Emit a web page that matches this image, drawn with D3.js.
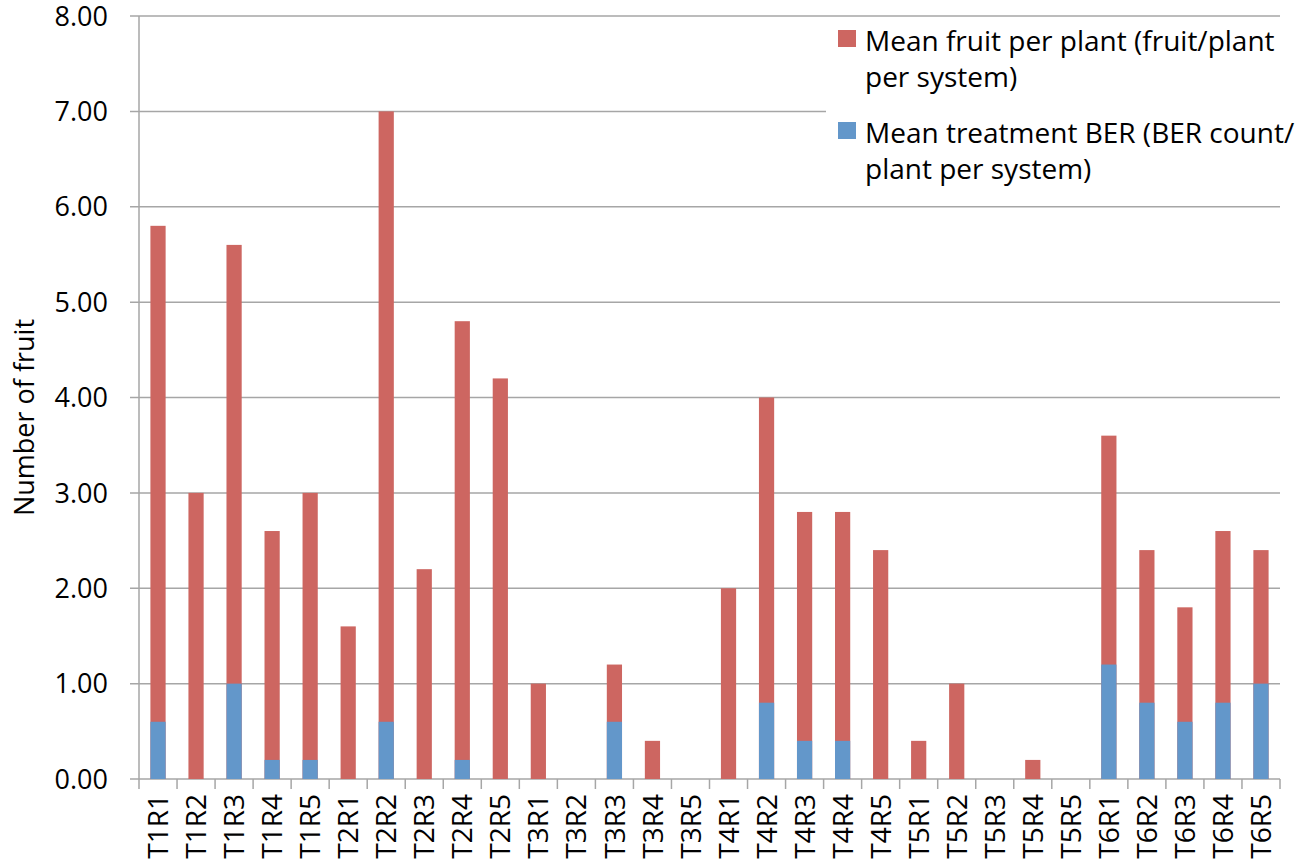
<!DOCTYPE html>
<html>
<head>
<meta charset="utf-8">
<script src="https://cdn.jsdelivr.net/npm/d3@7"></script>
<style>
  html, body { margin: 0; padding: 0; background: #ffffff; }
  svg { display: block; font-family: "Open Sans", sans-serif; }
</style>
</head>
<body>
<svg id="chart" width="1313" height="867"></svg>
<script>
// Category labels along the x axis
const categories = [
    'T1R1', 'T1R2', 'T1R3', 'T1R4', 'T1R5',
    'T2R1', 'T2R2', 'T2R3', 'T2R4', 'T2R5',
    'T3R1', 'T3R2', 'T3R3', 'T3R4', 'T3R5',
    'T4R1', 'T4R2', 'T4R3', 'T4R4', 'T4R5',
    'T5R1', 'T5R2', 'T5R3', 'T5R4', 'T5R5',
    'T6R1', 'T6R2', 'T6R3', 'T6R4', 'T6R5'
];

// Mean fruit per plant (bar top)
const fruitValues = [
    5.8, 3.0, 5.6, 2.6, 3.0,
    1.6, 7.0, 2.2, 4.8, 4.2,
    1.0, 0, 1.2, 0.4, 0,
    2.0, 4.0, 2.8, 2.8, 2.4,
    0.4, 1.0, 0, 0.2, 0,
    3.6, 2.4, 1.8, 2.6, 2.4
];

// Mean treatment BER (drawn over the fruit bar from zero)
const berValues = [
    0.6, 0, 1.0, 0.2, 0.2,
    0, 0.6, 0, 0.2, 0,
    0, 0, 0.6, 0, 0,
    0, 0.8, 0.4, 0.4, 0,
    0, 0, 0, 0, 0,
    1.2, 0.8, 0.6, 0.8, 1.0
];

const yTicks = [0, 1, 2, 3, 4, 5, 6, 7, 8];

const seriesNames = [
    ['Mean fruit per plant (fruit/plant', 'per system)'],
    ['Mean treatment BER (BER count/', 'plant per system)']
];

const red = '#cd6661';
const blue = '#6397ca';
const axisGrey = '#a6a6a6';

const svg = d3.select('#chart');
const plot = { left: 139, right: 1280, top: 16, bottom: 779 };

const xScale = d3.scaleBand()
    .domain(categories)
    .range([plot.left, plot.right])
    .paddingInner(0.6)
    .paddingOuter(0.3);

const yScale = d3.scaleLinear()
    .domain([0, 8])
    .range([plot.bottom, plot.top]);

// Horizontal gridlines + y tick marks
svg.append('g')
    .selectAll('line')
    .data(yTicks)
    .join('line')
    .attr('x1', plot.left - 9)
    .attr('x2', plot.right)
    .attr('y1', (d) => yScale(d))
    .attr('y2', (d) => yScale(d))
    .attr('stroke', axisGrey)
    .attr('stroke-width', 1.5);

// Y tick labels
svg.append('g')
    .selectAll('text')
    .data(yTicks)
    .join('text')
    .attr('x', 108)
    .attr('y', (d) => yScale(d))
    .attr('dy', '0.36em')
    .attr('text-anchor', 'end')
    .attr('font-size', 27)
    .attr('fill', '#000')
    .text((d) => d.toFixed(2));

// Vertical axis line
svg.append('line')
    .attr('x1', plot.left).attr('x2', plot.left)
    .attr('y1', plot.top).attr('y2', plot.bottom)
    .attr('stroke', axisGrey)
    .attr('stroke-width', 1.5);

// Category boundary ticks under the x axis
const step = xScale.step();
const boundaries = d3.range(categories.length + 1).map((i) => plot.left + i * step);
svg.append('g')
    .selectAll('line')
    .data(boundaries)
    .join('line')
    .attr('x1', (d) => d).attr('x2', (d) => d)
    .attr('y1', plot.bottom).attr('y2', plot.bottom + 10)
    .attr('stroke', axisGrey)
    .attr('stroke-width', 1.5);

// Fruit bars
svg.append('g')
    .selectAll('rect')
    .data(fruitValues)
    .join('rect')
    .attr('x', (d, i) => xScale(categories[i]))
    .attr('width', xScale.bandwidth())
    .attr('y', (d) => yScale(d))
    .attr('height', (d) => yScale(0) - yScale(d))
    .attr('fill', red);

// BER bars
svg.append('g')
    .selectAll('rect')
    .data(berValues)
    .join('rect')
    .attr('x', (d, i) => xScale(categories[i]))
    .attr('width', xScale.bandwidth())
    .attr('y', (d) => yScale(d))
    .attr('height', (d) => yScale(0) - yScale(d))
    .attr('fill', blue);

// X labels, rotated
svg.append('g')
    .selectAll('text')
    .data(categories)
    .join('text')
    .attr('transform', (d) =>
        `translate(${xScale(d) + xScale.bandwidth() / 2}, 794) rotate(-90)`)
    .attr('dy', '0.36em')
    .attr('text-anchor', 'end')
    .attr('font-size', 28)
    .attr('fill', '#000')
    .text((d) => d);

// Y axis title
svg.append('text')
    .attr('transform', `translate(24, ${(plot.top + plot.bottom) / 2 + 20}) rotate(-90)`)
    .attr('dy', '0.36em')
    .attr('text-anchor', 'middle')
    .attr('font-size', 27)
    .attr('fill', '#000')
    .text('Number of fruit');

// Legend
const legend = svg.append('g');
legend.append('rect')
    .attr('x', 826).attr('y', 18)
    .attr('width', 487).attr('height', 178)
    .attr('fill', '#fff');

const legendColors = [red, blue];
seriesNames.forEach((lines, i) => {
    const top = 30 + i * 92;
    legend.append('rect')
        .attr('x', 838).attr('y', top)
        .attr('width', 18).attr('height', 17)
        .attr('fill', legendColors[i]);
    lines.forEach((line, j) => {
        legend.append('text')
            .attr('x', 865)
            .attr('y', top + 21 + j * 36)
            .attr('font-size', 28)
            .attr('fill', '#000')
            .text(line);
    });
});
</script>
</body>
</html>
